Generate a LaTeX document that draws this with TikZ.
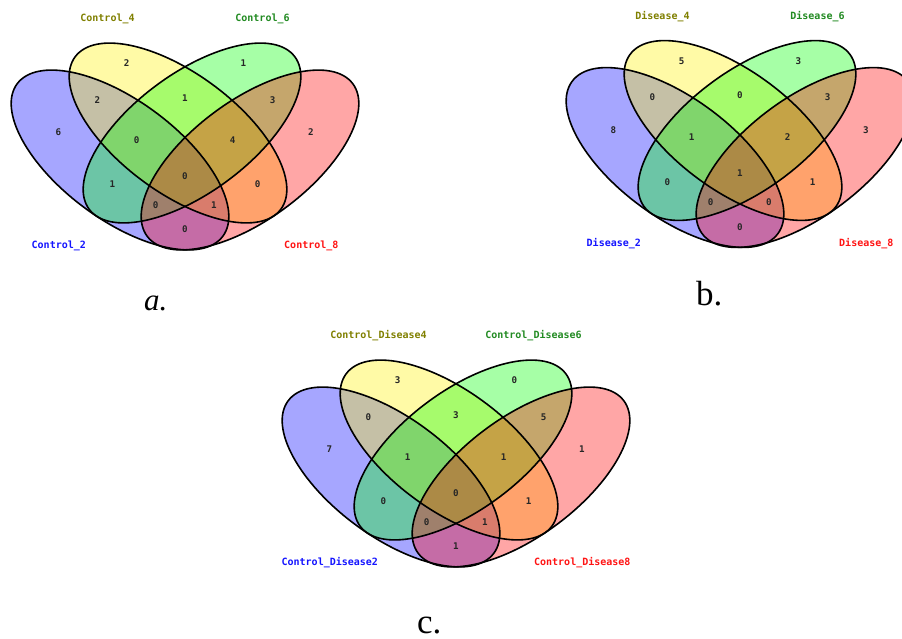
\documentclass[tikz,border=0pt]{standalone}
\usepackage{fontspec}
\setmainfont{Liberation Serif}
\newfontfamily\vmono{DejaVu Sans Mono}
\definecolor{lblolive}{RGB}{128,128,0}
\definecolor{lblgreen}{RGB}{34,139,34}
\definecolor{lblblue}{RGB}{20,20,255}
\definecolor{lblred}{RGB}{255,20,20}
\tikzset{
  vfill/.style={fill=#1, fill opacity=0.35, draw=none},
  vline/.style={draw=black, line width=1.6pt},
  num/.style={font=\vmono\bfseries\fontsize{9.2}{10}\selectfont, text=black!85, inner sep=0pt},
  lbl/.style={font=\vmono\bfseries\fontsize{10}{11}\selectfont, inner sep=0pt},
  capt/.style={font=\fontsize{35}{37}\selectfont, inner sep=0pt, anchor=base west},
}
\newcommand\vennshapes{%
  \foreach \cx/\cy/\ang/\col in {120/160/-36.5/blue, 178/133/-36.5/yellow, 192/133/36.5/green, 250/160/36.5/red}{
    \path[vfill=\col, shift={(\cx,\cy)}, rotate=\ang] (0,0) ellipse (128 and 59.5);
  }
  \foreach \cx/\cy/\ang in {120/160/-36.5, 178/133/-36.5, 192/133/36.5, 250/160/36.5}{
    \path[vline, shift={(\cx,\cy)}, rotate=\ang] (0,0) ellipse (128 and 59.5);
  }
}
\begin{document}
\begin{tikzpicture}[x=1pt,y=-1pt]
\useasboundingbox (0,0) rectangle (902,639);
\clip (0,0) rectangle (902,639);
\fill[white] (0,0) rectangle (902,639);

% ---------- a ----------
\begin{scope}
  \vennshapes
  \node[lbl, text=lblolive] (a-l4) at (107.5,19) {Control\_4};
  \node[lbl, text=lblgreen] (a-l6) at (262.5,19) {Control\_6};
  \node[lbl, text=lblblue]  (a-l2) at (58.8,245.7) {Control\_2};
  \node[lbl, text=lblred]   (a-l8) at (311.3,245.7) {Control\_8};
  \node[num] (a-n1)  at (58.3,132.3) {6};
  \node[num] (a-n2)  at (126.7,63.3) {2};
  \node[num] (a-n3)  at (243.3,63.3) {1};
  \node[num] (a-n4)  at (311,132.3) {2};
  \node[num] (a-n5)  at (97.3,100) {2};
  \node[num] (a-n6)  at (185,97.7) {1};
  \node[num] (a-n7)  at (272.7,100) {3};
  \node[num] (a-n8)  at (136.7,140) {0};
  \node[num] (a-n9)  at (232.7,140) {4};
  \node[num] (a-n10) at (112.3,184.3) {1};
  \node[num] (a-n11) at (185,176) {0};
  \node[num] (a-n12) at (257.7,184.3) {0};
  \node[num] (a-n13) at (155.7,205) {0};
  \node[num] (a-n14) at (214,205) {1};
  \node[num] (a-n15) at (185,229.3) {0};
\end{scope}
\node[capt, font=\fontsize{31}{33}\selectfont] (capa) at (144,310) {\itshape a.};

% ---------- b ----------
\begin{scope}[shift={(555,-2.5)}]
  \vennshapes
  \node[lbl, text=lblolive] (b-l4) at (107.5,19) {Disease\_4};
  \node[lbl, text=lblgreen] (b-l6) at (262.5,19) {Disease\_6};
  \node[lbl, text=lblblue]  (b-l2) at (58.8,245.7) {Disease\_2};
  \node[lbl, text=lblred]   (b-l8) at (311.3,245.7) {Disease\_8};
  \node[num] (b-n1)  at (58.3,132.3) {8};
  \node[num] (b-n2)  at (126.7,63.3) {5};
  \node[num] (b-n3)  at (243.3,63.3) {3};
  \node[num] (b-n4)  at (311,132.3) {3};
  \node[num] (b-n5)  at (97.3,100) {0};
  \node[num] (b-n6)  at (185,97.7) {0};
  \node[num] (b-n7)  at (272.7,100) {3};
  \node[num] (b-n8)  at (136.7,140) {1};
  \node[num] (b-n9)  at (232.7,140) {2};
  \node[num] (b-n10) at (112.3,184.3) {0};
  \node[num] (b-n11) at (185,176) {1};
  \node[num] (b-n12) at (257.7,184.3) {1};
  \node[num] (b-n13) at (155.7,205) {0};
  \node[num] (b-n14) at (214,205) {0};
  \node[num] (b-n15) at (185,229.3) {0};
\end{scope}
\node[capt] (capb) at (696,305) {b.};

% ---------- c ----------
\begin{scope}[shift={(271,317)}]
  \vennshapes
  \node[lbl, text=lblolive] (c-l4) at (107.5,19) {Control\_Disease4};
  \node[lbl, text=lblgreen] (c-l6) at (262.5,19) {Control\_Disease6};
  \node[lbl, text=lblblue]  (c-l2) at (58.8,245.7) {Control\_Disease2};
  \node[lbl, text=lblred]   (c-l8) at (311.3,245.7) {Control\_Disease8};
  \node[num] (c-n1)  at (58.3,132.3) {7};
  \node[num] (c-n2)  at (126.7,63.3) {3};
  \node[num] (c-n3)  at (243.3,63.3) {0};
  \node[num] (c-n4)  at (311,132.3) {1};
  \node[num] (c-n5)  at (97.3,100) {0};
  \node[num] (c-n6)  at (185,97.7) {3};
  \node[num] (c-n7)  at (272.7,100) {5};
  \node[num] (c-n8)  at (136.7,140) {1};
  \node[num] (c-n9)  at (232.7,140) {1};
  \node[num] (c-n10) at (112.3,184.3) {0};
  \node[num] (c-n11) at (185,176) {0};
  \node[num] (c-n12) at (257.7,184.3) {1};
  \node[num] (c-n13) at (155.7,205) {0};
  \node[num] (c-n14) at (214,205) {1};
  \node[num] (c-n15) at (185,229.3) {1};
\end{scope}
\node[capt] (capc) at (417,633) {c.};
\end{tikzpicture}
\end{document}
